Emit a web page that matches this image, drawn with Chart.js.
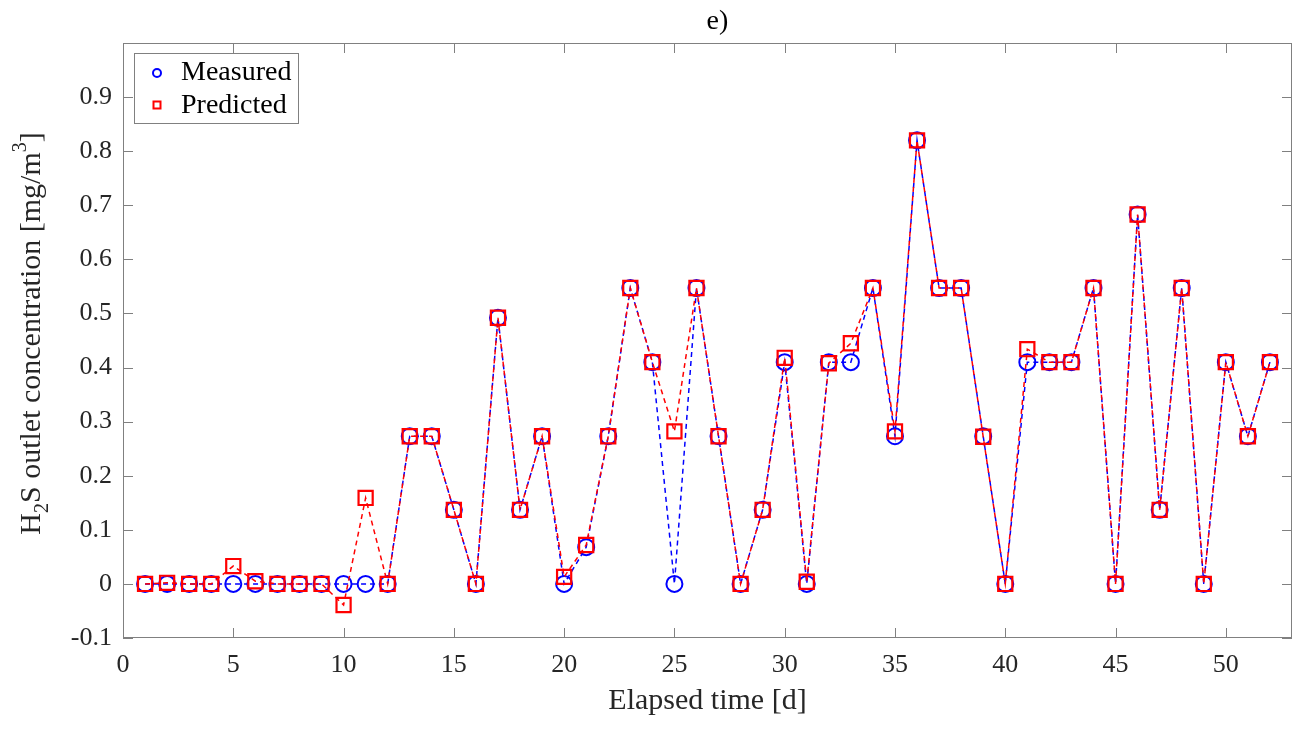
<!DOCTYPE html>
<html>
<head>
<meta charset="utf-8">
<script src="https://cdn.jsdelivr.net/npm/chart.js@4.4.1/dist/chart.umd.min.js"></script>
<style>
  body { margin: 0; background: #fff; }
</style>
</head>
<body>
<canvas id="myCanvas" width="1295" height="731"></canvas>
<script>
// elapsed days
var days = [1, 2, 3, 4, 5, 6, 7, 8, 9, 10, 11, 12, 13, 14, 15, 16, 17, 18, 19, 20,
  21, 22, 23, 24, 25, 26, 27, 28, 29, 30, 31, 32, 33, 34, 35, 36, 37, 38, 39, 40,
  41, 42, 43, 44, 45, 46, 47, 48, 49, 50, 51, 52];

// H2S outlet concentration, mg/m3
var measured = [0, 0, 0, 0, 0, 0, 0, 0, 0, 0, 0, 0,
  0.273, 0.273, 0.137, 0, 0.492, 0.137, 0.273, 0, 0.068, 0.273, 0.547, 0.41, 0, 0.547,
  0.273, 0, 0.137, 0.41, 0, 0.41, 0.41, 0.547, 0.273, 0.82, 0.547, 0.547, 0.273, 0,
  0.41, 0.41, 0.41, 0.547, 0, 0.683, 0.137, 0.547, 0, 0.41, 0.273, 0.41];

var predicted = [0, 0.002, 0, 0, 0.033, 0.005, 0, 0, 0, -0.039, 0.159, 0,
  0.273, 0.273, 0.137, 0, 0.492, 0.137, 0.273, 0.013, 0.072, 0.273, 0.547, 0.41, 0.282, 0.547,
  0.273, 0, 0.137, 0.418, 0.004, 0.408, 0.445, 0.547, 0.282, 0.82, 0.547, 0.547, 0.272, 0,
  0.434, 0.41, 0.41, 0.547, 0, 0.683, 0.137, 0.547, 0, 0.41, 0.273, 0.41];

var seriesNames = ["Measured", "Predicted"];
var xTicks = [0, 5, 10, 15, 20, 25, 30, 35, 40, 45, 50];
var yTicks = [-0.1, 0, 0.1, 0.2, 0.3, 0.4, 0.5, 0.6, 0.7, 0.8, 0.9, 1.0];
var yTickLabels = ["-0.1", "0", "0.1", "0.2", "0.3", "0.4", "0.5", "0.6", "0.7", "0.8", "0.9", ""];

var FONT = "'Liberation Serif', 'Times New Roman', serif";
var TEXT = "#262626";
var AXIS = "#808080";

function toPoints(ys) {
  var pts = [];
  for (var i in days) {
    pts.push({ x: days[i], y: ys[i] });
  }
  return pts;
}

// box, inward ticks, title, y label with sub/superscript, legend
var matlabLook = {
  id: "matlabLook",
  afterDraw: function (chart) {
    var ctx = chart.ctx;
    var a = chart.chartArea;
    var xs = chart.scales.x;
    var ys = chart.scales.y;
    var tl = 10;

    ctx.save();
    ctx.strokeStyle = AXIS;
    ctx.lineWidth = 1;
    ctx.strokeRect(a.left + 0.5, a.top + 0.5, a.right - a.left - 1, a.bottom - a.top - 1);
    ctx.beginPath();
    xTicks.forEach(function (v) {
      var px = Math.round(xs.getPixelForValue(v)) + 0.5;
      ctx.moveTo(px, a.bottom); ctx.lineTo(px, a.bottom - tl);
      ctx.moveTo(px, a.top); ctx.lineTo(px, a.top + tl);
    });
    yTicks.forEach(function (v) {
      var py = Math.round(ys.getPixelForValue(v)) + 0.5;
      ctx.moveTo(a.left, py); ctx.lineTo(a.left + tl, py);
      ctx.moveTo(a.right, py); ctx.lineTo(a.right - tl, py);
    });
    ctx.stroke();

    // title
    ctx.fillStyle = "#000";
    ctx.font = "28px " + FONT;
    ctx.textAlign = "center";
    ctx.textBaseline = "middle";
    ctx.fillText("e)", (a.left + a.right) / 2 + 10, 22);

    // y axis label
    ctx.fillStyle = TEXT;
    var big = "30px " + FONT, small = "20px " + FONT;
    var parts = [
      { t: "H", f: big, dy: 0 },
      { t: "2", f: small, dy: 8 },
      { t: "S outlet concentration [mg/m", f: big, dy: 0 },
      { t: "3", f: small, dy: -14 },
      { t: "]", f: big, dy: 0 }
    ];
    var total = 0;
    parts.forEach(function (p) { ctx.font = p.f; p.w = ctx.measureText(p.t).width; total += p.w; });
    ctx.translate(40, (a.top + a.bottom) / 2 - 7);
    ctx.rotate(-Math.PI / 2);
    ctx.textAlign = "left";
    ctx.textBaseline = "alphabetic";
    var cx = -total / 2;
    parts.forEach(function (p) {
      ctx.font = p.f;
      ctx.fillText(p.t, cx, p.dy);
      cx += p.w;
    });
    ctx.restore();

    // legend
    ctx.save();
    var lx = 134, ly = 53, lw = 164, lh = 70;
    ctx.fillStyle = "#fff";
    ctx.fillRect(lx, ly, lw, lh);
    ctx.strokeStyle = AXIS;
    ctx.lineWidth = 1;
    ctx.strokeRect(lx + 0.5, ly + 0.5, lw, lh);
    ctx.lineWidth = 2;
    ctx.strokeStyle = "#0000ff";
    ctx.beginPath();
    ctx.arc(157, 73, 4, 0, Math.PI * 2);
    ctx.stroke();
    ctx.strokeStyle = "#ff0000";
    ctx.strokeRect(153.5, 101.5, 7, 7);
    ctx.fillStyle = "#000";
    ctx.font = "28px " + FONT;
    ctx.textAlign = "left";
    ctx.textBaseline = "middle";
    ctx.fillText(seriesNames[0], 181, 73);
    ctx.fillText(seriesNames[1], 181, 106);
    ctx.restore();
  }
};

var ctx = document.getElementById("myCanvas");

var chart = new Chart(ctx, {
  type: "line",
  data: {
    datasets: [
      {
        label: seriesNames[0],
        data: toPoints(measured),
        borderColor: "#0000ff",
        backgroundColor: "rgba(0,0,0,0)",
        borderWidth: 1.5,
        borderDash: [5, 4],
        pointStyle: "circle",
        pointRadius: 8,
        pointBorderWidth: 2,
        pointBorderColor: "#0000ff",
        pointBackgroundColor: "rgba(0,0,0,0)",
        tension: 0,
        order: 2,
      },
      {
        label: seriesNames[1],
        data: toPoints(predicted),
        borderColor: "#ff0000",
        backgroundColor: "rgba(0,0,0,0)",
        borderWidth: 1.5,
        borderDash: [5, 4],
        pointStyle: "rect",
        pointRadius: 10,
        pointBorderWidth: 2.2,
        pointBorderColor: "#ff0000",
        pointBackgroundColor: "rgba(0,0,0,0)",
        tension: 0,
        order: 1,
      },
    ],
  },
  options: {
    responsive: false,
    animation: false,
    devicePixelRatio: 1,
    layout: { autoPadding: false, padding: { top: 43, right: 3, left: 0, bottom: 0 } },
    plugins: {
      legend: { display: false },
      tooltip: { enabled: false },
    },
    scales: {
      x: {
        type: "linear",
        min: 0,
        max: 53,
        grid: { display: false, drawTicks: false },
        border: { display: false },
        afterBuildTicks: function (s) {
          s.ticks = xTicks.map(function (v) { return { value: v }; });
        },
        afterFit: function (s) {
          s.height = 93;
          s.paddingLeft = 0;
          s.paddingRight = 0;
        },
        ticks: {
          color: TEXT,
          padding: 12,
          maxRotation: 0,
          autoSkip: false,
          font: { family: FONT, size: 26 },
        },
        title: {
          display: true,
          text: "Elapsed time [d]",
          color: TEXT,
          font: { family: FONT, size: 30 },
          padding: { top: 0, bottom: 12 },
        },
      },
      y: {
        min: -0.1,
        max: 1.0,
        grid: { display: false, drawTicks: false },
        border: { display: false },
        afterBuildTicks: function (s) {
          s.ticks = yTicks.map(function (v) { return { value: v }; });
        },
        afterFit: function (s) {
          s.width = 123;
          s.paddingTop = 0;
          s.paddingBottom = 0;
        },
        ticks: {
          color: TEXT,
          padding: 11,
          autoSkip: false,
          font: { family: FONT, size: 26 },
          callback: function (v, i) { return yTickLabels[i]; },
        },
      },
    },
  },
  plugins: [matlabLook],
});
</script>
</body>
</html>
